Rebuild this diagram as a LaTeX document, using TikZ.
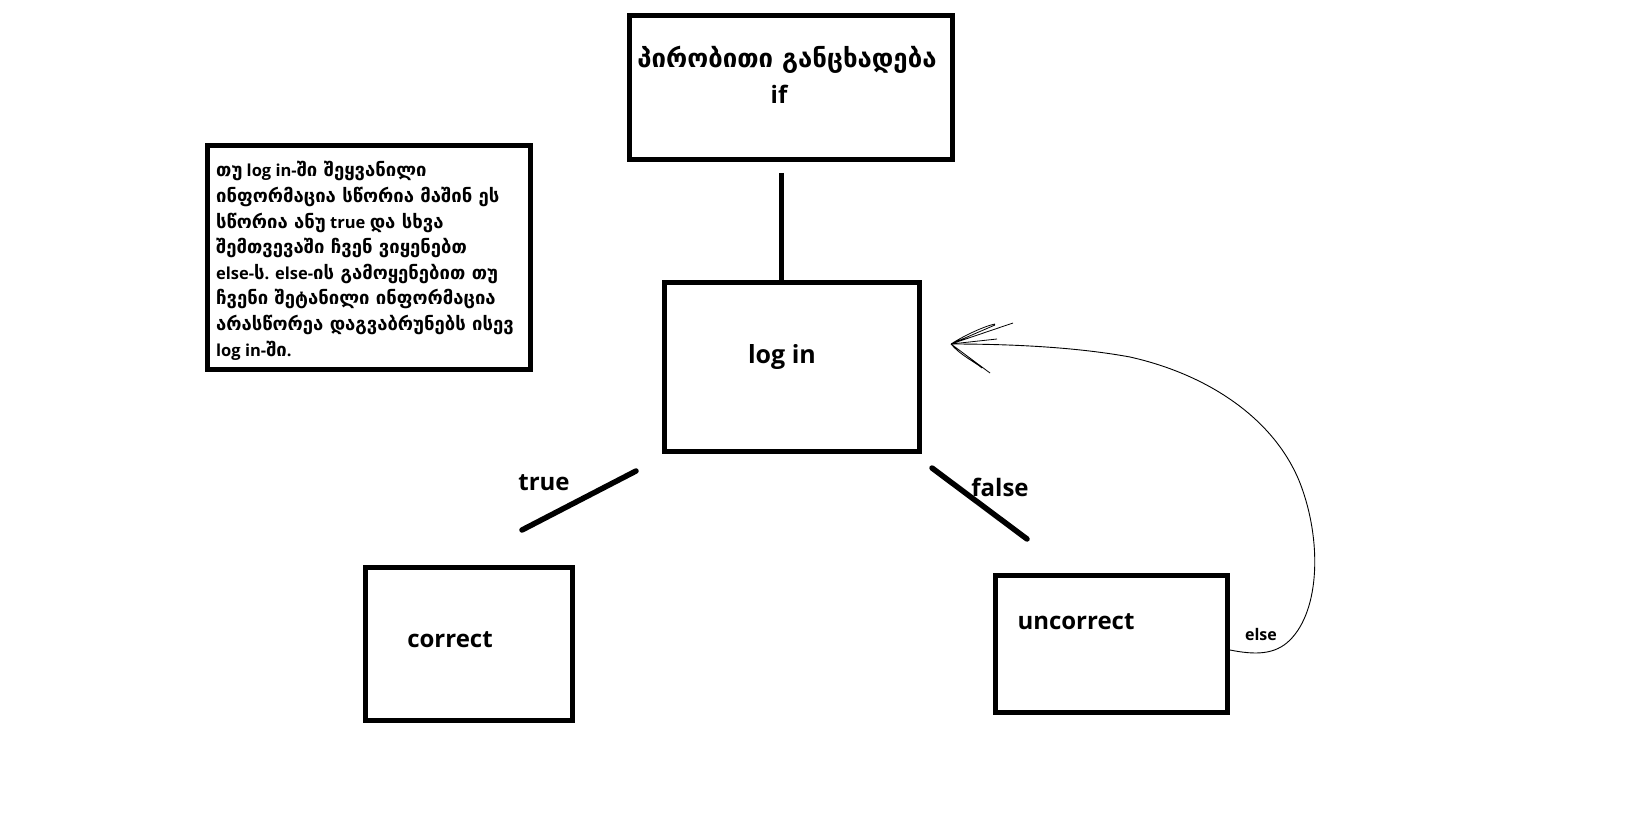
\documentclass[tikz,border=0pt]{standalone}
\usepackage{fontspec}
\setmainfont{Open Sans}
\newfontfamily\geo{DejaVu Sans}[Scale=1.12]
\begin{document}
\begin{tikzpicture}[x=1pt,y=-1pt,
  box/.style={draw=black,line width=5pt},
  lbl/.style={font=\bfseries\fontsize{24}{28}\selectfont,inner sep=0pt},
  conn/.style={line width=5.5pt,line cap=round},
  notel/.style={anchor=base west,inner sep=0pt,font=\bfseries\fontsize{16.5}{20}\selectfont}]
\useasboundingbox[fill=white] (0,0) rectangle (1627,818);
% boxes
\draw[box] (629,15.5) coordinate (ifNW) rectangle (952.5,160) coordinate (ifSE);
\draw[box] (664,283) coordinate (logNW) rectangle (919.5,451) coordinate (logSE);
\draw[box] (365,567) coordinate (corNW) rectangle (572,720) coordinate (corSE);
\draw[box] (995.5,575) coordinate (uncNW) rectangle (1227.5,712.5) coordinate (uncSE);
\draw[box] (207.5,145.5) coordinate (noteNW) rectangle (530.5,369.5) coordinate (noteSE);
% texts
\node[inner sep=0pt,font=\bfseries\fontsize{23}{28}\selectfont] (title) at (787,60) {\geo პირობითი განცხადება};
\node[lbl] (iftext) at (779,94) {if};
\node[lbl,font=\bfseries\fontsize{25}{30}\selectfont] (logtext) at (782,357) {log in};
\node[lbl] (cortext) at (450,640) {correct};
\node[lbl] (unctext) at (1076,622) {uncorrect};
\node[lbl] (truetext) at (544,483) {true};
\node[lbl] (falsetext) at (1000,487) {false};
\node[lbl,font=\bfseries\fontsize{16}{20}\selectfont] (elsetext) at (1261,634) {else};
% note
\node[notel] (n1) at (216,177) {{\geo თუ} log in-{\geo ში შეყვანილი}};
\node[notel] (n2) at (216,202.6) {\geo ინფორმაცია სწორია მაშინ ეს};
\node[notel] (n3) at (216,228.2) {{\geo სწორია ანუ} true {\geo და სხვა}};
\node[notel] (n4) at (216,253.8) {\geo შემთვევაში ჩვენ ვიყენებთ};
\node[notel] (n5) at (216,279.4) {else-{\geo ს}. else-{\geo ის გამოყენებით თუ}};
\node[notel] (n6) at (216,305) {\geo ჩვენი შეტანილი ინფორმაცია};
\node[notel] (n7) at (216,330.6) {\geo არასწორეა დაგვაბრუნებს ისევ};
\node[notel] (n8) at (216,356.2) {log in-{\geo ში}.};
% connectors
\coordinate (v1) at (781,173);
\coordinate (logtop) at (781,283);
\draw[line width=5pt] (v1) -- (logtop);
\coordinate (t1) at (636,471);
\coordinate (t2) at (522,530);
\draw[conn] (t1) -- (t2);
\coordinate (f1) at (932,468);
\coordinate (f2) at (1027,539);
\draw[conn] (f1) -- (f2);
% else curve
\coordinate (cs) at (1230,650);
\coordinate (tip) at (951,344);
\draw[line width=0.9pt] (cs) .. controls (1255,655) and (1275,655) .. (1290,640)
  .. controls (1320,610) and (1322,540) .. (1300,483)
  .. controls (1275,420) and (1210,375) .. (1130,357)
  .. controls (1070,346) and (1000,344) .. (tip);
% scribbled arrowhead
\draw[line width=0.8pt] (tip) -- (1013,323)
  (tip) -- (995,325) (tip) -- (997,339) (tip) -- (990,373)
  (tip) .. controls (965,335) and (985,326) .. (995,324)
  (tip) .. controls (960,355) and (975,362) .. (982,368);
\end{tikzpicture}
\end{document}
